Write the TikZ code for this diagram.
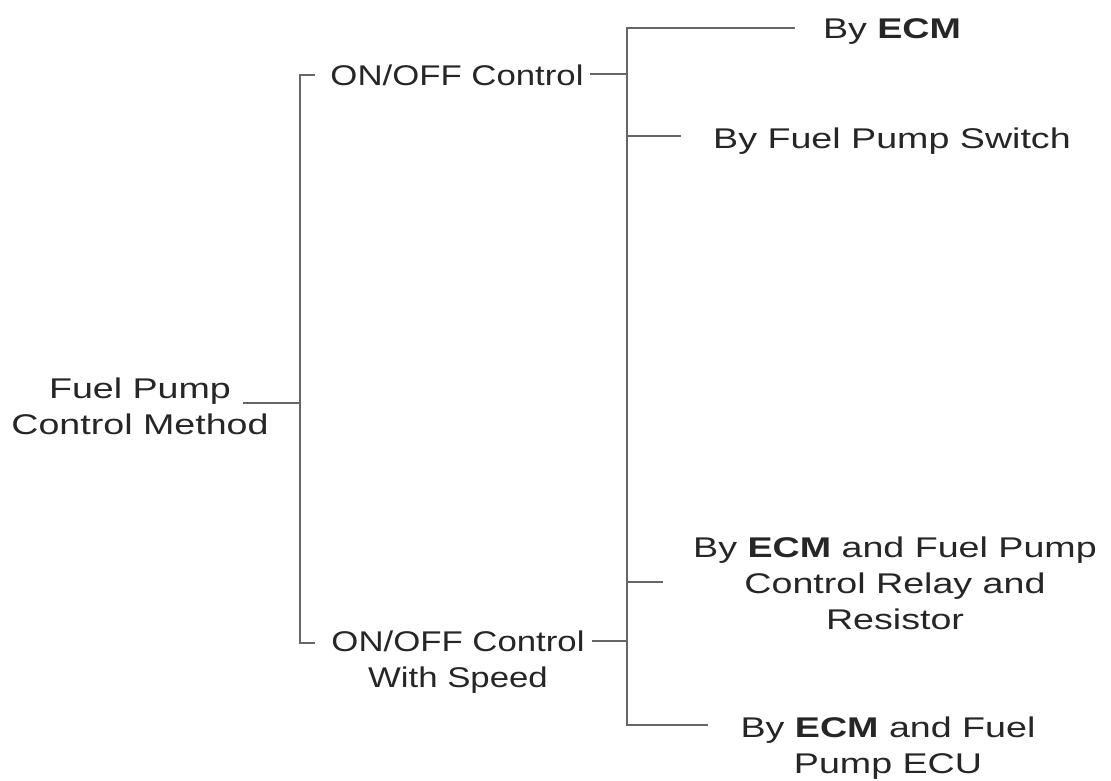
\documentclass[tikz,border=0pt]{standalone}
\usepackage{fontspec}
\setmainfont[FakeStretch=1.32]{Liberation Sans}
\newfontfamily\narrowfont[FakeStretch=1.22]{Liberation Sans}
\begin{document}
\begin{tikzpicture}[x=1pt,y=-1pt,
  lbl/.style={anchor=north,inner sep=0pt,align=center,text=black!85,
    font=\fontsize{28.5}{36}\selectfont},
  nlbl/.style={lbl,font=\narrowfont\fontsize{28.5}{36}\selectfont},
  conn/.style={draw=black!60,line width=1.1pt}]
\useasboundingbox[fill=white] (0,0) rectangle (1111,780);
% text nodes
\node[lbl] (root) at (140,378) {Fuel Pump\\Control Method};
\node[nlbl] (on1) at (457,65) {ON/OFF Control};
\node[nlbl] (on2) at (458,631) {ON/OFF Control\\With Speed};
\node[lbl] (b1) at (892,18) {By \textbf{ECM}};
\node[lbl] (b2) at (892,128) {By Fuel Pump Switch};
\node[lbl] (b3) at (895,537) {By \textbf{ECM} and Fuel Pump\\Control Relay and\\Resistor};
\node[lbl] (b4) at (888,717) {By \textbf{ECM} and Fuel\\Pump ECU};
% junction coordinates
\coordinate (rootout) at (243,403);
\coordinate (j0) at (300,403);
\coordinate (ja) at (300,75);
\coordinate (jb) at (300,643);
\coordinate (ta) at (315,75);
\coordinate (tb) at (315,643);
\coordinate (o1) at (590,74);
\coordinate (o2) at (592,641);
\coordinate (k1) at (627,74);
\coordinate (k2) at (627,641);
\coordinate (r1) at (627,28);
\coordinate (r2) at (627,136);
\coordinate (r3) at (627,582);
\coordinate (r4) at (627,725);
\coordinate (e1) at (795,28);
\coordinate (e2) at (681,136);
\coordinate (e3) at (663,582);
\coordinate (e4) at (708,725);
% connectors
\draw[conn] (rootout) -- (j0);
\draw[conn] (ta) -- (ja) -- (jb) -- (tb);
\draw[conn] (o1) -- (k1);
\draw[conn] (o2) -- (k2);
\draw[conn] (e1) -- (r1) -- (r4) -- (e4);
\draw[conn] (r2) -- (e2);
\draw[conn] (r3) -- (e3);
\end{tikzpicture}
\end{document}
